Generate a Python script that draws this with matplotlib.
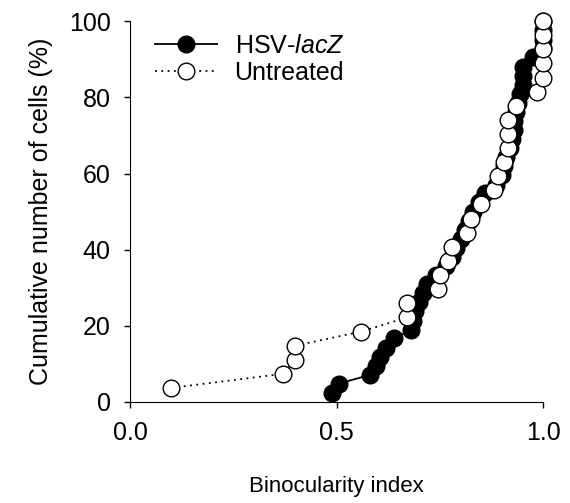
import matplotlib
matplotlib.use("Agg")
import matplotlib.pyplot as plt

plt.rcParams['font.family'] = ['Liberation Sans', 'DejaVu Sans']
plt.rcParams['mathtext.fontset'] = 'custom'
plt.rcParams['mathtext.rm'] = 'Liberation Sans'
plt.rcParams['mathtext.it'] = 'Liberation Sans:italic'

# binocularity index of each cell, sorted; y is the cumulative percentage
hsv_x = [0.490, 0.505, 0.580, 0.595, 0.605, 0.620, 0.640, 0.680, 0.685, 0.690,
         0.700, 0.710, 0.720, 0.740, 0.765, 0.780, 0.790, 0.800, 0.810, 0.820,
         0.830, 0.845, 0.860, 0.885, 0.900, 0.905, 0.910, 0.920, 0.925, 0.930,
         0.930, 0.935, 0.940, 0.945, 0.950, 0.950, 0.950, 0.975, 1.0, 1.0,
         1.0, 1.0]
hsv_y = [2.4, 4.8, 7.1, 9.5, 11.9, 14.3, 16.7, 19.0, 21.4, 23.8,
         26.2, 28.6, 31.0, 33.3, 35.7, 38.1, 40.5, 42.9, 45.2, 47.6,
         50.0, 52.4, 54.8, 57.1, 59.5, 61.9, 64.3, 66.7, 69.0, 71.4,
         73.8, 76.2, 78.6, 81.0, 83.3, 85.7, 88.1, 90.5, 92.9, 95.2,
         97.6, 100.0]

untr_x = [0.10, 0.37, 0.40, 0.40, 0.56, 0.67, 0.67, 0.745, 0.75, 0.77,
          0.78, 0.815, 0.825, 0.85, 0.88, 0.89, 0.905, 0.915, 0.915, 0.915,
          0.935, 0.985, 1.0, 1.0, 1.0, 1.0, 1.0]
untr_y = [3.7, 7.4, 11.1, 14.8, 18.5, 22.2, 25.9, 29.6, 33.3, 37.0,
          40.7, 44.4, 48.1, 51.9, 55.6, 59.3, 63.0, 66.7, 70.4, 74.1,
          77.8, 81.5, 85.2, 88.9, 92.6, 96.3, 100.0]

fig = plt.figure(figsize=(5.7, 5.03), dpi=100)
ax = fig.add_axes([0.228, 0.2008, 0.725, 0.757])

ax.plot(hsv_x, hsv_y, '-', color='black', lw=1.3, marker='o', ms=12,
        mfc='black', mec='black', mew=1, clip_on=False, zorder=3,
        label='HSV-$\\it{lacZ}$')
ax.plot(untr_x, untr_y, color='black', lw=1.3, ls=(0, (1, 2.5)), marker='o',
        ms=12, mfc='white', mec='black', mew=1, clip_on=False, zorder=4,
        label='Untreated')

ax.set_xlim(0, 1)
ax.set_ylim(0, 100)
ax.set_xticks([0, 0.5, 1.0])
ax.set_xticklabels(['0.0', '0.5', '1.0'])
ax.set_yticks(range(0, 101, 20))
ax.tick_params(labelsize=18, length=4, width=1, direction='out', pad=10)
for s in ['top', 'right']:
    ax.spines[s].set_visible(False)

ax.set_xlabel('Binocularity index', fontsize=16, labelpad=22)
ax.set_ylabel('Cumulative number of cells (%)', fontsize=18, labelpad=11)

ax.legend(loc='upper left', bbox_to_anchor=(0.005, 1.025), frameon=False,
          fontsize=18, numpoints=1, handlelength=2.5, handletextpad=0.7,
          labelspacing=0.12, markerscale=1.0)

fig.savefig('out.png', dpi=100)
